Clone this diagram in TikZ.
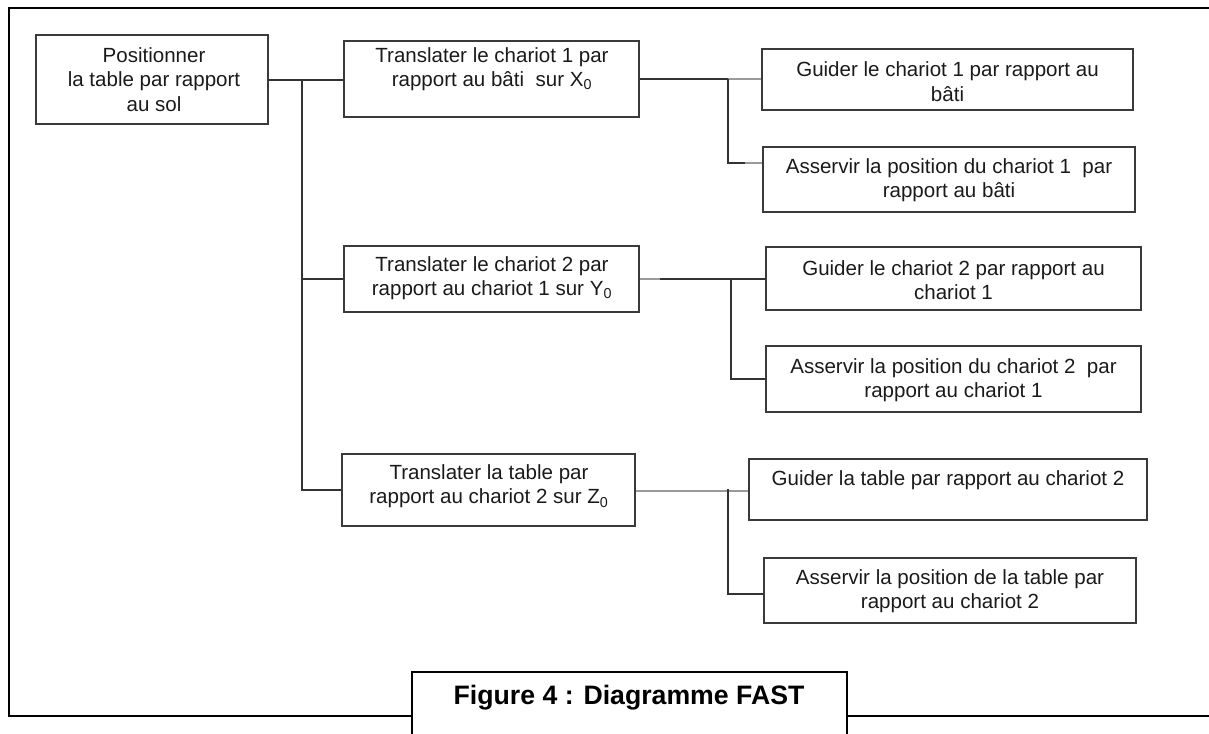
\documentclass[tikz,border=0pt]{standalone}
\usepackage{fontspec}
\setmainfont{Liberation Sans}
\definecolor{boxline}{HTML}{3A3A3A}
\definecolor{wiredark}{HTML}{333333}
\definecolor{wirelight}{HTML}{9A9A9A}
\definecolor{inktext}{HTML}{1A1A1A}
\begin{document}
\begin{tikzpicture}[x=0.75pt,y=-0.75pt,
  fbox/.style={draw=boxline,line width=0.95pt,inner sep=0pt},
  ftext/.style={inner sep=0pt,align=center,text=inktext,
    font=\fontsize{15.4pt}{18.4pt}\selectfont},
  wire/.style={draw=wiredark,line width=0.95pt},
  wirepale/.style={draw=wirelight,line width=0.95pt},
  frame/.style={draw=black,line width=1.7pt},
  captext/.style={inner sep=0pt,font=\fontsize{20pt}{24pt}\selectfont\bfseries}]
\useasboundingbox (0,0) rectangle (1209,734);

% outer frame and caption box
\node[frame,inner sep=0pt,minimum width=326.25pt,minimum height=54.75pt] (cap) at (629.5,708.5) {};
\node[captext] (captxt) at (629,698) {Figure 4 : Diagramme FAST};
\coordinate (ftr) at (1212,8);
\coordinate (ftl) at (9,8);
\coordinate (fbl) at (9,716);
\coordinate (fbr) at (1212,716);
\draw[frame] (ftr) -- (ftl) -- (fbl) -- (fbl -| cap.west);
\draw[frame] (fbr -| cap.east) -- (fbr);

% function boxes
\node[fbox,minimum width=174pt,minimum height=66.75pt] (root) at (152,79.5) {};
\node[fbox,minimum width=221.25pt,minimum height=57pt] (t1) at (491.5,79) {};
\node[fbox,minimum width=221.25pt,minimum height=49.5pt] (t2) at (491.5,279) {};
\node[fbox,minimum width=219.75pt,minimum height=54pt] (t3) at (488.5,490) {};
\node[fbox,minimum width=278.25pt,minimum height=45.75pt] (g1) at (947.5,79.5) {};
\node[fbox,minimum width=279pt,minimum height=48.75pt] (a1) at (949,179.5) {};
\node[fbox,minimum width=281.25pt,minimum height=47.25pt] (g2) at (953.5,278.5) {};
\node[fbox,minimum width=281.25pt,minimum height=49.5pt] (a2) at (953.5,379) {};
\node[fbox,minimum width=298.5pt,minimum height=45.75pt] (g3) at (948,489.5) {};
\node[fbox,minimum width=279pt,minimum height=48.75pt] (a3) at (950,590.5) {};

% box texts
\node[ftext] (rootx) at (154,79.5) {Positionner\\la table par rapport\\au sol};
\node[ftext] (t1x) at (492,69) {Translater le chariot 1 par\\rapport au bâti~ sur X\textsubscript{0}};
\node[ftext] (t2x) at (492,278) {Translater le chariot 2 par\\rapport au chariot 1 sur Y\textsubscript{0}};
\node[ftext] (t3x) at (489,486) {Translater la table par\\rapport au chariot 2 sur Z\textsubscript{0}};
\node[ftext] (g1x) at (947.5,81.5) {Guider le chariot 1 par rapport au\\bâti};
\node[ftext] (a1x) at (949,180) {Asservir la position du chariot 1~ par\\rapport au bâti};
\node[ftext] (g2x) at (953.5,280) {Guider le chariot 2 par rapport au\\chariot 1};
\node[ftext] (a2x) at (953.5,380) {Asservir la position du chariot 2~ par\\rapport au chariot 1};
\node[ftext] (g3x) at (948,480) {Guider la table par rapport au chariot 2};
\node[ftext] (a3x) at (950,591) {Asservir la position de la table par\\rapport au chariot 2};

% first level: trunk from the main function
\coordinate (k0) at (302,80);
\draw[wire] (root.east |- k0) -- (t1.west |- k0);
\draw[wire] (k0) |- (t3.west);
\draw[wire] (k0 |- t2.west) -- (t2.west);

% second level: chariot 1
\coordinate (k1) at (728,79);
\coordinate (k1a) at (745,163);
\draw[wire] (t1.east |- k1) -- (k1);
\draw[wirepale] (k1) -- (g1.west |- k1);
\draw[wire] (k1) |- (k1a);
\draw[wirepale] (k1a) -- (a1.west |- k1a);

% second level: chariot 2
\coordinate (k2) at (731,279);
\coordinate (k2p) at (660,279);
\draw[wirepale] (t2.east |- k2) -- (k2p);
\draw[wire] (k2p) -- (g2.west |- k2);
\draw[wire] (k2) |- (a2.west);

% second level: table
\coordinate (k3) at (728,491);
\coordinate (k3b) at (728,594);
\draw[wirepale] (t3.east |- k3) -- (g3.west |- k3);
\draw[wire] ([yshift=1.5pt]k3) -- (k3b) -- (a3.west |- k3b);
\end{tikzpicture}
\end{document}
